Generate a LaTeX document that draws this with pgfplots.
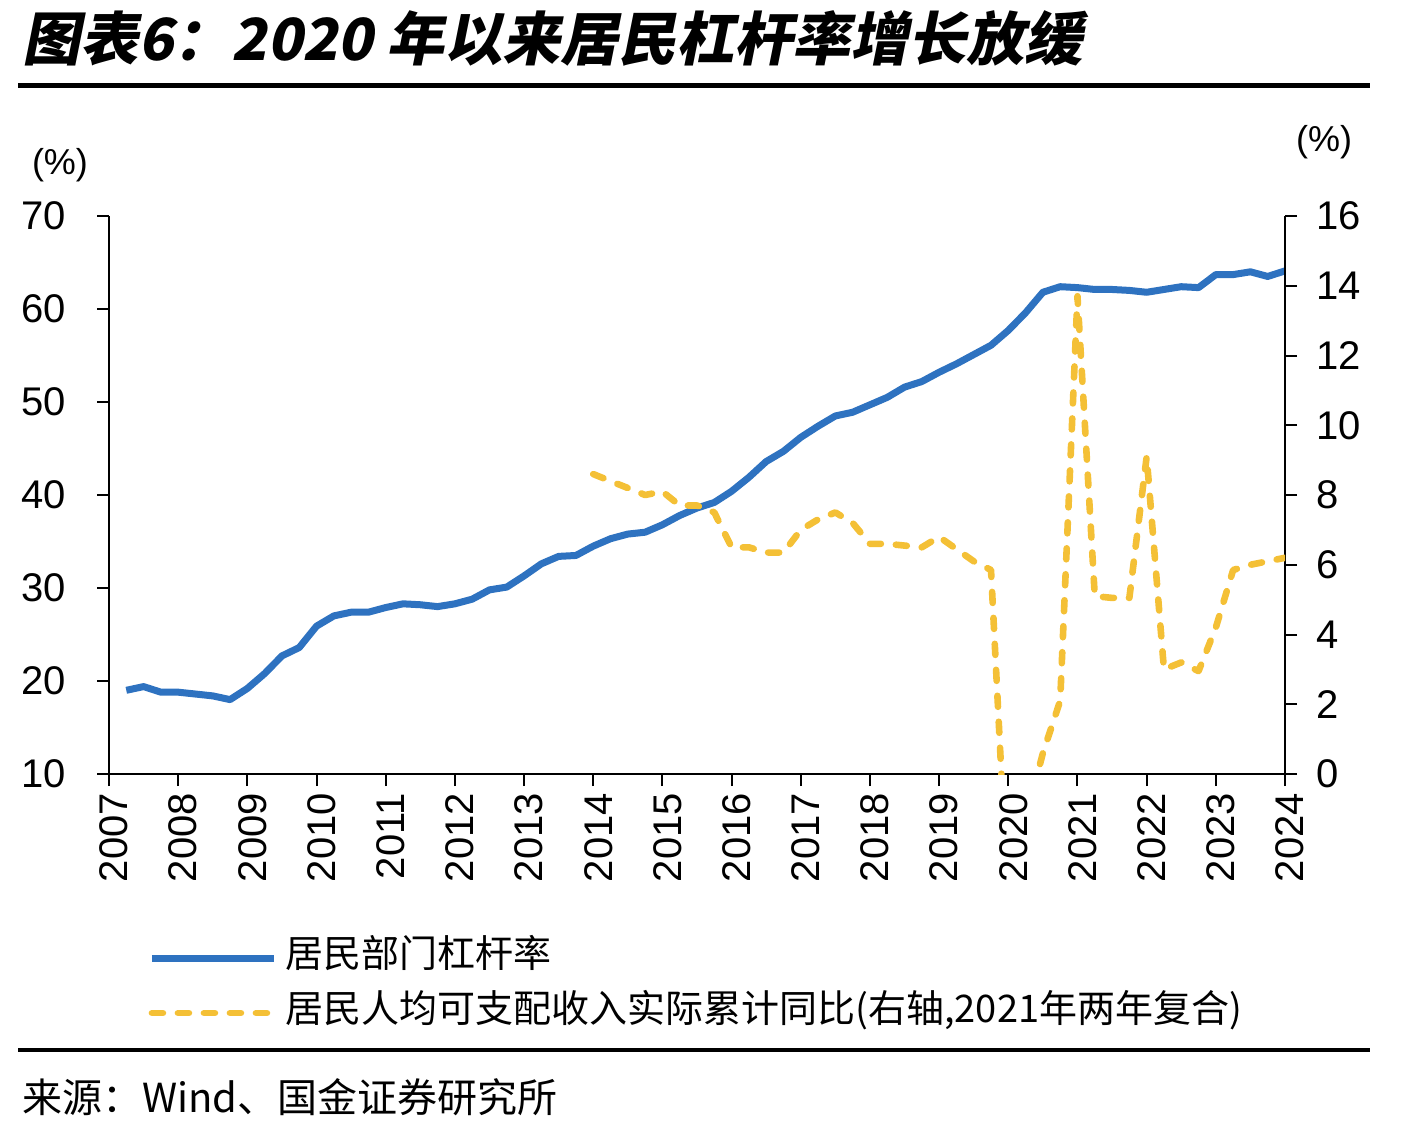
\documentclass[border=0pt]{standalone}
\usepackage{fontspec}
\setmainfont{Liberation Sans}
\newfontfamily\cjk{Noto Sans CJK SC}
\newfontfamily\titlefont{Noto Sans CJK SC}[FakeSlant=0.2]
\usepackage{pgfplots}
\pgfplotsset{compat=1.18}
\usepackage{pgfplotstable}

\definecolor{lineblue}{RGB}{46,114,192}
\definecolor{lineyellow}{RGB}{244,192,54}

% household leverage ratio, %
\pgfplotstableread{
x y
2007.25 19.0
2007.5 19.4
2007.75 18.8
2008.0 18.8
2008.25 18.6
2008.5 18.4
2008.75 18.0
2009.0 19.2
2009.25 20.8
2009.5 22.7
2009.75 23.6
2010.0 25.9
2010.25 27.0
2010.5 27.4
2010.75 27.4
2011.0 27.9
2011.25 28.3
2011.5 28.2
2011.75 28.0
2012.0 28.3
2012.25 28.8
2012.5 29.8
2012.75 30.1
2013.0 31.3
2013.25 32.6
2013.5 33.4
2013.75 33.5
2014.0 34.5
2014.25 35.3
2014.5 35.8
2014.75 36.0
2015.0 36.8
2015.25 37.8
2015.5 38.6
2015.75 39.2
2016.0 40.4
2016.25 41.9
2016.5 43.6
2016.75 44.7
2017.0 46.2
2017.25 47.4
2017.5 48.5
2017.75 48.9
2018.0 49.7
2018.25 50.5
2018.5 51.6
2018.75 52.2
2019.0 53.2
2019.25 54.1
2019.5 55.1
2019.75 56.1
2020.0 57.7
2020.25 59.6
2020.5 61.8
2020.75 62.4
2021.0 62.3
2021.25 62.1
2021.5 62.1
2021.75 62.0
2022.0 61.8
2022.25 62.1
2022.5 62.4
2022.75 62.3
2023.0 63.7
2023.25 63.7
2023.5 64.0
2023.75 63.5
2024.0 64.1
}\leverage

% real disposable income per capita, cumulative yoy, %
\pgfplotstableread{
x y
2014.0 8.6
2014.25 8.4
2014.5 8.2
2014.75 8.0
2015.0 8.1
2015.25 7.7
2015.5 7.7
2015.75 7.5
2016.0 6.5
2016.25 6.5
2016.5 6.35
2016.75 6.35
2017.0 7.0
2017.25 7.3
2017.5 7.5
2017.75 7.2
2018.0 6.6
2018.25 6.6
2018.5 6.55
2018.75 6.5
2019.0 6.8
2019.25 6.45
2019.5 6.1
2019.75 5.85
2020.0 -3.9
2020.25 -1.3
2020.5 0.6
2020.75 2.1
2021.0 13.7
2021.25 5.1
2021.5 5.05
2021.75 5.05
2022.0 9.1
2022.25 3.0
2022.5 3.2
2022.75 2.95
2023.0 4.2
2023.25 5.85
2023.5 6.0
2023.75 6.1
2024.0 6.2
}\income

\pgfplotsset{
  base/.style={
    scale only axis,
    width=588pt, height=279pt,
    at={(54.5pt,-387pt)}, anchor=south west,
    xmin=2007, xmax=2024,
    axis line style={line width=1pt},
    major tick style={line width=1pt, black},
    major tick length=6pt,
    tick align=outside,
    ticklabel style={font=\fontsize{20}{20}\selectfont},
    /pgf/number format/assume math mode=true,
  },
  blueline/.style={color=lineblue, line width=3.5pt, line join=round},
  yellowline/.style={color=lineyellow, line width=3.3pt, line cap=round, line join=round, dash pattern=on 5.5pt off 7.5pt},
}

\begin{document}
\begin{tikzpicture}
% title and rules
\node[anchor=west, inner sep=0pt] at (11pt,-19pt) {\titlefont\bfseries\fontsize{29}{29}\selectfont 图表6：2020 年以来居民杠杆率增长放缓};
\draw[line width=2.5pt] (9pt,-42.5pt) -- (685pt,-42.5pt);
\draw[line width=2pt] (9pt,-525pt) -- (685pt,-525pt);
\node[anchor=west, inner sep=0pt] at (11pt,-548.5pt) {\cjk\fontsize{20}{20}\selectfont 来源：Wind、国金证券研究所};
\node[inner sep=0pt] at (30pt,-82.5pt) {\fontsize{18}{18}\selectfont (\%)};
\node[inner sep=0pt] at (662pt,-71pt) {\fontsize{18}{18}\selectfont (\%)};

\begin{axis}[base,
  axis y line*=left, axis x line*=bottom,
  ymin=10, ymax=70, ytick={10,20,...,70},
  yticklabel style={xshift=-12pt},
  xtick={2007,2008,...,2024},
  xticklabel style={rotate=90, anchor=east, yshift=-2.5pt},
  xticklabel={\pgfmathprintnumber[1000 sep={}, fixed]{\tick}},
]
\addplot[blueline] table[x=x, y=y] {\leverage};
\end{axis}

\begin{axis}[base,
  axis y line*=right, axis x line=none,
  ymin=0, ymax=16, ytick={0,2,...,16},
  yticklabel style={xshift=6pt},
  legend style={at={(0.0332,-0.379)}, anchor=west, draw=none, fill=none,
    inner sep=0pt, row sep=9.5pt, column sep=4pt,
    nodes={inner sep=0pt, text height=14pt, text depth=4pt},
    font=\cjk\fontsize{19}{19}\selectfont, cells={anchor=west}},
  legend image code/.code={\draw[#1] (0pt,0pt) -- (61pt,0pt);},
]
\addlegendimage{blueline}
\addlegendentry{居民部门杠杆率}
\addplot[yellowline] table[x=x, y=y] {\income};
\addlegendentry{居民人均可支配收入实际累计同比(右轴,2021年两年复合)}
\end{axis}

\pgfresetboundingbox
\useasboundingbox (0,0) rectangle (706pt,-565pt);
\end{tikzpicture}
\end{document}
